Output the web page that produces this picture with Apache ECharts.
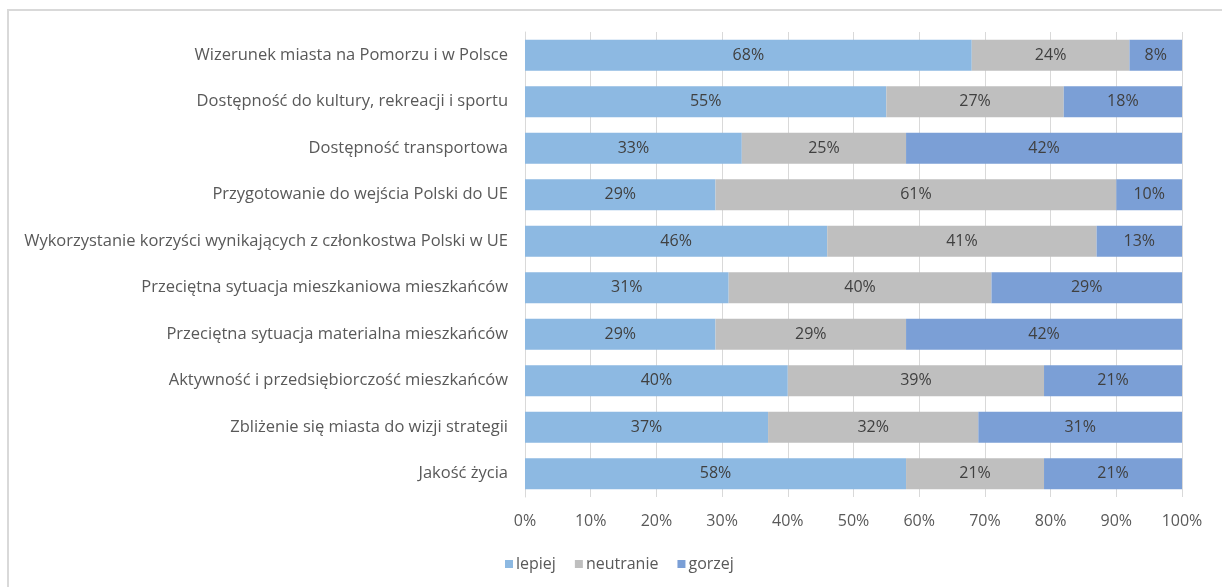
<!DOCTYPE html>
<html>
<head>
<meta charset="utf-8">
<script src="https://cdn.jsdelivr.net/npm/echarts@6/dist/echarts.min.js"></script>
<style>
  html, body { margin: 0; padding: 0; background: #fff; }
  #frame {
    position: absolute; left: 7px; top: 9px; width: 1240px; height: 600px;
    border: 2px solid #d9d9d9; box-sizing: border-box;
  }
  #chart { position: absolute; left: 0; top: 0; width: 1222px; height: 587px; }
</style>
</head>
<body>
<div id="frame"></div>
<div id="chart"></div>
<script>
// categories, top to bottom
const categories = [
  'Wizerunek miasta na Pomorzu i w Polsce',
  'Dostępność do kultury, rekreacji i sportu',
  'Dostępność transportowa',
  'Przygotowanie do wejścia Polski do UE',
  'Wykorzystanie korzyści wynikających z członkostwa Polski w UE',
  'Przeciętna sytuacja mieszkaniowa mieszkańców',
  'Przeciętna sytuacja materialna mieszkańców',
  'Aktywność i przedsiębiorczość mieszkańców',
  'Zbliżenie się miasta do wizji strategii',
  'Jakość życia'
]
const lepiej = [68, 55, 33, 29, 46, 31, 29, 40, 37, 58]
const neutranie = [24, 27, 25, 61, 41, 40, 29, 39, 32, 21]
const gorzej = [8, 18, 42, 10, 13, 29, 42, 21, 31, 21]

const FONT = 'Open Sans'

function barSeries(name, data, color) {
  return {
    name,
    type: 'bar',
    stack: 'total',
    data,
    barCategoryGap: '33%',
    itemStyle: { color },
    label: {
      show: true,
      formatter: '{c}%',
      color: '#404040',
      fontSize: 16,
      fontFamily: FONT
    }
  }
}

const chart = echarts.init(document.getElementById('chart'))
chart.setOption({
  animation: false,
  textStyle: { fontFamily: FONT },
  grid: { left: 525, right: 40, top: 32, bottom: 90, containLabel: false },
  legend: {
    bottom: 10,
    left: 500,
    itemWidth: 8,
    itemHeight: 8,
    itemGap: 19,
    icon: 'rect',
    textStyle: { color: '#595959', fontSize: 16, fontFamily: FONT, padding: [0, 0, 0, -2] },
    data: ['lepiej', 'neutranie', 'gorzej']
  },
  xAxis: {
    type: 'value',
    min: 0,
    max: 100,
    interval: 10,
    axisLine: { show: false },
    axisTick: { show: false },
    axisLabel: { formatter: '{value}%', color: '#595959', fontSize: 16, fontFamily: FONT, margin: 16 },
    splitLine: { show: true, lineStyle: { color: '#d9d9d9', width: 1 } }
  },
  yAxis: {
    type: 'category',
    inverse: true,
    data: categories,
    axisLine: { show: true, lineStyle: { color: '#d9d9d9' } },
    axisTick: { show: false },
    axisLabel: { color: '#595959', fontSize: 16.5, fontFamily: FONT, margin: 17 }
  },
  series: [
    barSeries('lepiej', lepiej, '#8db9e2'),
    barSeries('neutranie', neutranie, '#bfbfbf'),
    barSeries('gorzej', gorzej, '#7b9fd6')
  ]
})
</script>
</body>
</html>
